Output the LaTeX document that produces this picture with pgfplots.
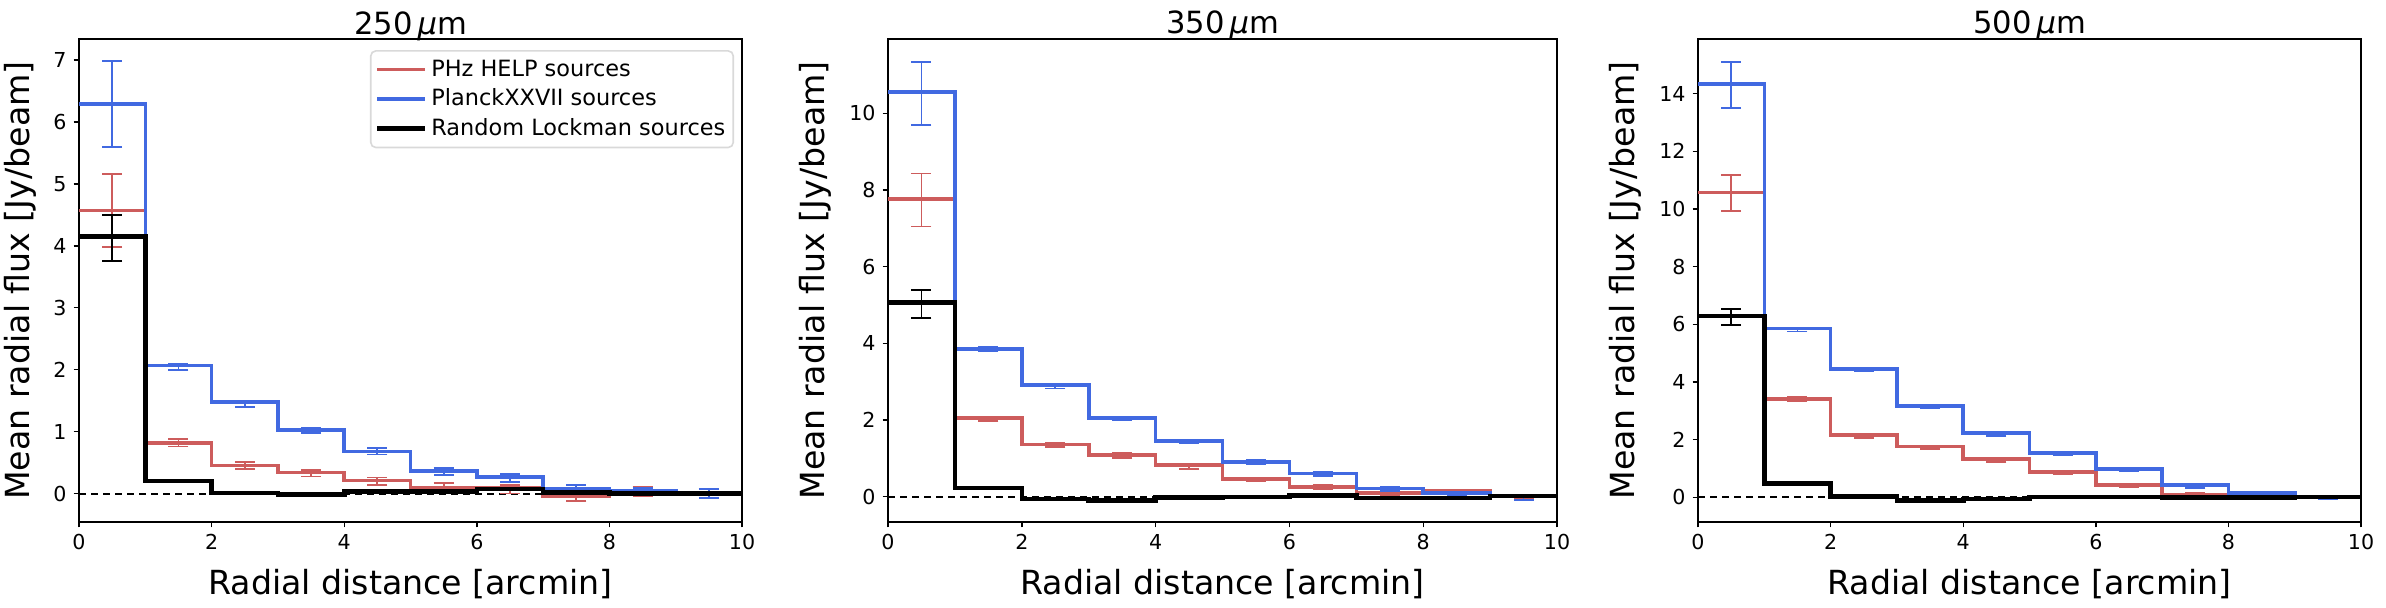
\documentclass[border=0pt]{standalone}
\usepackage{pgfplots}
\pgfplotsset{compat=1.18}
\usepackage{fontspec}
\setmainfont{DejaVu Sans}
\definecolor{ired}{RGB}{205,92,92}
\definecolor{rblue}{RGB}{65,105,225}
\pgfplotsset{
  panel/.style={
    scale only axis, height=241.5pt, anchor=south west,
    xmin=0, xmax=10, xtick={0,2,...,10},
    axis line style={line width=1pt},
    tick pos=left,
    tick align=outside, major tick length=2.7pt,
    every tick/.style={black, line width=0.7pt},
    tick label style={font=\fontsize{10.3}{12}\selectfont},
    /pgf/number format/assume math mode=true,
    xlabel={Radial distance [arcmin]},
    ylabel={Mean radial flux [Jy/beam]},
    label style={font=\fontsize{16.6}{20}\selectfont},
    xlabel style={at={(axis description cs:0.5,0)}, anchor=base, yshift=-36.5pt},
    title style={at={(axis description cs:0.5,1)}, anchor=base, yshift=-3.5pt, font=\fontsize{15.3}{18}\selectfont},
  },
  stepred/.style={ired, line width=1.8pt, const plot},
  stepblue/.style={rblue, line width=1.8pt, const plot},
  stepblack/.style={black, line width=2.3pt, const plot},
  ebar/.style={draw=none, mark=none, forget plot,
    error bars/.cd, y dir=both, y explicit,
    error bar style={draw=#1, solid, line width=0.9pt},
    error mark options={draw=#1, solid, line width=0.9pt, mark size=5pt, rotate=90}},
  zeroline/.style={black, line width=1pt, dash pattern=on 3.5pt off 2.5pt, forget plot},
}
\begin{document}
\begin{tikzpicture}
\useasboundingbox (0,0) rectangle (1193pt,304pt);
% ---------------- 250 micron ----------------
\begin{axis}[panel, at={(39.5pt,43pt)}, width=331.5pt,
  ymin=-0.46, ymax=7.34, ytick={0,1,...,7},
  ylabel style={at={(axis description cs:-0.089,0.5)}, anchor=center},
  title={250\,{\itshape μ}m},
  legend style={at={(0.988,0.977)}, anchor=north east, draw=black!15, line width=0.8pt,
    rounded corners=2.5pt, fill=white, font=\fontsize{11.2}{13}\selectfont,
    inner xsep=2pt, inner ysep=2.5pt, row sep=0.8pt},
  legend cell align=left,
  legend image code/.code={\draw[#1] (0pt,0pt) -- (24pt,0pt);},
]
\addplot[zeroline] coordinates {(0,0) (10,0)};
\addplot[stepred] coordinates {(0,4.57) (1,0.82) (2,0.45) (3,0.34) (4,0.21) (5,0.10) (6,0.09) (7,-0.04) (8,0.03) (9,0.01) (10,0.01)};
\addlegendentry{PHz HELP sources}
\addplot[ebar=ired] coordinates {(0.5,4.57) +- (0,0.59) (1.5,0.82) +- (0,0.06) (2.5,0.45) +- (0,0.055) (3.5,0.33) +- (0,0.055) (4.5,0.20) +- (0,0.06) (5.5,0.10) +- (0,0.07) (6.5,0.07) +- (0,0.07) (7.5,-0.05) +- (0,0.065) (8.5,0.03) +- (0,0.07) (9.5,0.02) +- (0,0.05)};
\addplot[stepblue] coordinates {(0,6.29) (1,2.07) (2,1.48) (3,1.03) (4,0.68) (5,0.36) (6,0.27) (7,0.08) (8,0.05) (9,0.00) (10,0.00)};
\addlegendentry{PlanckXXVII sources}
\addplot[ebar=rblue] coordinates {(0.5,6.29) +- (0,0.69) (1.5,2.04) +- (0,0.05) (2.5,1.45) +- (0,0.05) (3.5,1.02) +- (0,0.045) (4.5,0.685) +- (0,0.055) (5.5,0.36) +- (0,0.055) (6.5,0.255) +- (0,0.065) (7.5,0.075) +- (0,0.065) (8.5,0.05) +- (0,0.04) (9.5,0.0) +- (0,0.07)};
\addplot[stepblack] coordinates {(0,4.15) (1,0.20) (2,0.01) (3,-0.02) (4,0.03) (5,0.035) (6,0.075) (7,0.02) (8,0.005) (9,0.005) (10,0.005)};
\addlegendentry{Random Lockman sources}
\addplot[ebar=black] coordinates {(0.5,4.13) +- (0,0.37) (1.5,0.20) +- (0,0.02) (2.5,0.01) +- (0,0.02) (3.5,-0.02) +- (0,0.02) (4.5,0.03) +- (0,0.02) (5.5,0.035) +- (0,0.02) (6.5,0.075) +- (0,0.02) (7.5,0.02) +- (0,0.02) (8.5,0.005) +- (0,0.02) (9.5,0.005) +- (0,0.02)};
\end{axis}
% ---------------- 350 micron ----------------
\begin{axis}[panel, at={(444pt,43pt)}, width=334.5pt,
  ymin=-0.66, ymax=11.94, ytick={0,2,...,10},
  ylabel style={at={(axis description cs:-0.109,0.5)}, anchor=center},
  title={350\,{\itshape μ}m},
]
\addplot[zeroline] coordinates {(0,0) (10,0)};
\addplot[stepred] coordinates {(0,7.76) (1,2.05) (2,1.36) (3,1.09) (4,0.83) (5,0.46) (6,0.26) (7,0.09) (8,0.15) (9,0.00) (10,0.00)};
\addplot[ebar=ired] coordinates {(0.5,7.74) +- (0,0.69) (1.5,2.02) +- (0,0.05) (2.5,1.35) +- (0,0.05) (3.5,1.07) +- (0,0.06) (4.5,0.79) +- (0,0.06) (5.5,0.45) +- (0,0.05) (6.5,0.25) +- (0,0.05) (7.5,0.09) +- (0,0.05) (8.5,0.05) +- (0,0.05) (9.5,0.0) +- (0,0.04)};
\addplot[stepblue] coordinates {(0,10.55) (1,3.86) (2,2.91) (3,2.05) (4,1.46) (5,0.91) (6,0.61) (7,0.21) (8,0.09) (9,0.00) (10,0.00)};
\addplot[ebar=rblue] coordinates {(0.5,10.52) +- (0,0.83) (1.5,3.85) +- (0,0.05) (2.5,2.87) +- (0,0.05) (3.5,2.04) +- (0,0.05) (4.5,1.44) +- (0,0.05) (5.5,0.90) +- (0,0.05) (6.5,0.60) +- (0,0.05) (7.5,0.20) +- (0,0.05) (8.5,0.07) +- (0,0.05) (9.5,-0.02) +- (0,0.07)};
\addplot[stepblack] coordinates {(0,5.06) (1,0.23) (2,-0.06) (3,-0.10) (4,-0.02) (5,-0.01) (6,0.03) (7,-0.03) (8,-0.03) (9,0.02) (10,0.02)};
\addplot[ebar=black] coordinates {(0.5,5.03) +- (0,0.37) (1.5,0.23) +- (0,0.02) (2.5,-0.06) +- (0,0.02) (3.5,-0.10) +- (0,0.02) (4.5,-0.02) +- (0,0.02) (5.5,-0.01) +- (0,0.02) (6.5,0.03) +- (0,0.02) (7.5,-0.03) +- (0,0.02) (8.5,-0.03) +- (0,0.02) (9.5,0.02) +- (0,0.02)};
\end{axis}
% ---------------- 500 micron ----------------
\begin{axis}[panel, at={(849pt,43pt)}, width=331.5pt,
  ymin=-0.85, ymax=15.89, ytick={0,2,...,14},
  ylabel style={at={(axis description cs:-0.110,0.5)}, anchor=center},
  title={500\,{\itshape μ}m},
]
\addplot[zeroline] coordinates {(0,0) (10,0)};
\addplot[stepred] coordinates {(0,10.57) (1,3.41) (2,2.16) (3,1.77) (4,1.33) (5,0.89) (6,0.44) (7,0.08) (8,0.13) (9,0.00) (10,0.00)};
\addplot[ebar=ired] coordinates {(0.5,10.55) +- (0,0.62) (1.5,3.40) +- (0,0.07) (2.5,2.12) +- (0,0.06) (3.5,1.74) +- (0,0.06) (4.5,1.30) +- (0,0.06) (5.5,0.86) +- (0,0.06) (6.5,0.41) +- (0,0.06) (7.5,0.10) +- (0,0.05) (8.5,0.10) +- (0,0.05) (9.5,0.0) +- (0,0.04)};
\addplot[stepblue] coordinates {(0,14.34) (1,5.86) (2,4.46) (3,3.17) (4,2.23) (5,1.55) (6,0.99) (7,0.43) (8,0.16) (9,0.01) (10,0.01)};
\addplot[ebar=rblue] coordinates {(0.5,14.30) +- (0,0.80) (1.5,5.82) +- (0,0.07) (2.5,4.43) +- (0,0.06) (3.5,3.14) +- (0,0.06) (4.5,2.20) +- (0,0.06) (5.5,1.52) +- (0,0.06) (6.5,0.97) +- (0,0.06) (7.5,0.40) +- (0,0.06) (8.5,0.14) +- (0,0.06) (9.5,-0.01) +- (0,0.06)};
\addplot[stepblack] coordinates {(0,6.29) (1,0.48) (2,0.04) (3,-0.11) (4,-0.05) (5,0.01) (6,0.01) (7,-0.01) (8,-0.01) (9,0.01) (10,0.01)};
\addplot[ebar=black] coordinates {(0.5,6.25) +- (0,0.27) (1.5,0.48) +- (0,0.03) (2.5,0.04) +- (0,0.03) (3.5,-0.11) +- (0,0.03) (4.5,-0.05) +- (0,0.03) (5.5,0.01) +- (0,0.03) (6.5,0.01) +- (0,0.03) (7.5,-0.01) +- (0,0.03) (8.5,-0.01) +- (0,0.03) (9.5,0.01) +- (0,0.03)};
\end{axis}
\end{tikzpicture}
\end{document}
